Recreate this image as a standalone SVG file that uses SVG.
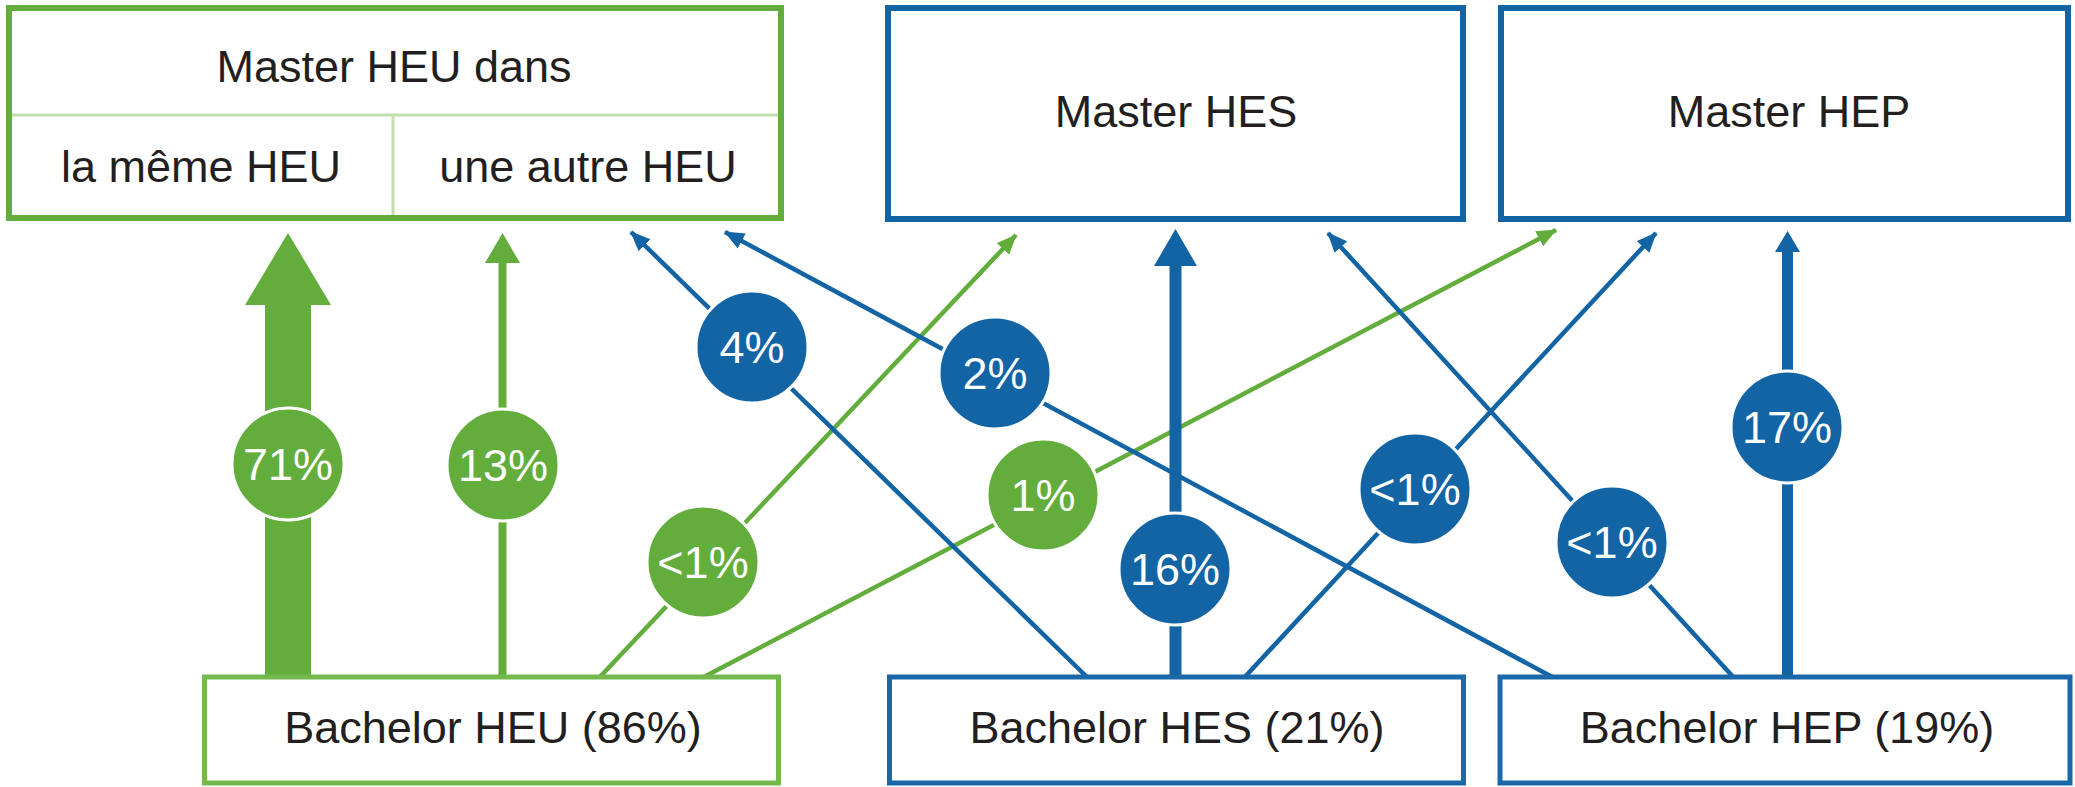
<svg xmlns="http://www.w3.org/2000/svg" width="2075" height="787" viewBox="0 0 2075 787">
<style>
  .lbl{font-family:"Liberation Sans",Arial,sans-serif;font-size:45px;fill:#231f20;text-anchor:middle}
  .pct{font-family:"Liberation Sans",Arial,sans-serif;font-size:45px;fill:#ffffff;text-anchor:middle}
  .gbox{fill:#ffffff;stroke:#62ad3c;stroke-width:6}
  .gbox2{fill:#ffffff;stroke:#74b84e;stroke-width:5}
  .bbox{fill:#ffffff;stroke:#1264a5;stroke-width:6}
  .bbox2{fill:#ffffff;stroke:#1a68a8;stroke-width:5}
  .div{stroke:#c3dfb0;stroke-width:3;fill:none}
  .gl{stroke:#62ad3c;stroke-width:4.5;fill:none}
  .bl{stroke:#1264a5;stroke-width:4.5;fill:none}
  .gc{fill:#62ad3c;stroke:#ffffff;stroke-width:3}
  .bc{fill:#1264a5;stroke:#ffffff;stroke-width:3}
  .gf{fill:#62ad3c}
  .bf{fill:#1264a5}
</style>
<defs>
  <marker id="ag" markerUnits="userSpaceOnUse" markerWidth="20" markerHeight="18" refX="19" refY="8.5" orient="auto" viewBox="0 0 20 17">
    <path d="M0,0 L20,8.5 L0,17 z" fill="#62ad3c"/>
  </marker>
  <marker id="ab" markerUnits="userSpaceOnUse" markerWidth="20" markerHeight="18" refX="19" refY="8.5" orient="auto" viewBox="0 0 20 17">
    <path d="M0,0 L20,8.5 L0,17 z" fill="#1264a5"/>
  </marker>
</defs>
<rect width="2075" height="787" fill="#ffffff"/>

<g id="connectors">
  <!-- 71% -->
  <rect class="gf" x="265" y="303" width="46" height="376"/>
  <polygon class="gf" points="288,233 331,305 245,305"/>
  <!-- 13% -->
  <rect class="gf" x="498.5" y="261" width="8" height="418"/>
  <polygon class="gf" points="502.5,233 520,263 485,263"/>
  <!-- <1% green HEU -> HES -->
  <line class="gl" x1="598" y1="679" x2="1016" y2="235" marker-end="url(#ag)"/>
  <!-- 1% green HEU -> HEP -->
  <line class="gl" x1="700" y1="679" x2="1556" y2="230" marker-end="url(#ag)"/>
  <!-- 4% HES -> HEU autre -->
  <line class="bl" x1="1089" y1="679" x2="631" y2="232" marker-end="url(#ab)"/>
  <!-- 2% HEP -> HEU autre -->
  <line class="bl" x1="1556" y1="679" x2="725" y2="232" marker-end="url(#ab)"/>
  <!-- 16% -->
  <rect class="bf" x="1169.5" y="262" width="12" height="417"/>
  <polygon class="bf" points="1175.5,229 1197,266 1154,266"/>
  <!-- <1% HES -> HEP -->
  <line class="bl" x1="1243" y1="679" x2="1656" y2="233" marker-end="url(#ab)"/>
  <!-- <1% HEP -> HES -->
  <line class="bl" x1="1735" y1="679" x2="1328" y2="233" marker-end="url(#ab)"/>
  <!-- 17% -->
  <rect class="bf" x="1782" y="249" width="11" height="430"/>
  <polygon class="bf" points="1787.5,231 1800,252 1775,252"/>
</g>

<g id="pct-71"><circle class="gc" cx="288" cy="464" r="56"/><text class="pct" x="288" y="480">71%</text></g>
<g id="pct-13"><circle class="gc" cx="503" cy="465" r="56"/><text class="pct" x="503" y="481">13%</text></g>
<g id="pct-lt1-heu-hes"><circle class="gc" cx="703" cy="562" r="56"/><text class="pct" x="703" y="578">&lt;1%</text></g>
<g id="pct-1"><circle class="gc" cx="1043" cy="495" r="56"/><text class="pct" x="1043" y="511">1%</text></g>
<g id="pct-4"><circle class="bc" cx="752" cy="347" r="56"/><text class="pct" x="752" y="363">4%</text></g>
<g id="pct-2"><circle class="bc" cx="995" cy="373" r="56"/><text class="pct" x="995" y="389">2%</text></g>
<g id="pct-16"><circle class="bc" cx="1175" cy="569" r="56"/><text class="pct" x="1175" y="585">16%</text></g>
<g id="pct-lt1-hes-hep"><circle class="bc" cx="1415" cy="489" r="56"/><text class="pct" x="1415" y="505">&lt;1%</text></g>
<g id="pct-lt1-hep-hes"><circle class="bc" cx="1612" cy="542" r="56"/><text class="pct" x="1612" y="558">&lt;1%</text></g>
<g id="pct-17"><circle class="bc" cx="1787" cy="427" r="56"/><text class="pct" x="1787" y="443">17%</text></g>

<g id="master-heu">
  <rect class="gbox" x="9" y="8" width="772" height="210"/>
  <line class="div" x1="12" y1="115" x2="778" y2="115"/>
  <line class="div" x1="393" y1="116" x2="393" y2="215"/>
  <text class="lbl" x="394" y="82">Master HEU dans</text>
  <text class="lbl" x="201" y="182">la même HEU</text>
  <text class="lbl" x="588" y="182">une autre HEU</text>
</g>
<g id="master-hes">
  <rect class="bbox" x="888" y="8" width="575" height="211"/>
  <text class="lbl" x="1176" y="127">Master HES</text>
</g>
<g id="master-hep">
  <rect class="bbox" x="1501" y="8" width="567" height="211"/>
  <text class="lbl" x="1789" y="127">Master HEP</text>
</g>
<g id="bachelor-heu">
  <rect class="gbox2" x="204.5" y="677" width="574" height="106"/>
  <text class="lbl" x="493" y="743">Bachelor HEU (86%)</text>
</g>
<g id="bachelor-hes">
  <rect class="bbox2" x="889.5" y="677" width="574" height="106"/>
  <text class="lbl" x="1177" y="743">Bachelor HES (21%)</text>
</g>
<g id="bachelor-hep">
  <rect class="bbox2" x="1500" y="677" width="570" height="106"/>
  <text class="lbl" x="1787" y="743">Bachelor HEP (19%)</text>
</g>
</svg>
